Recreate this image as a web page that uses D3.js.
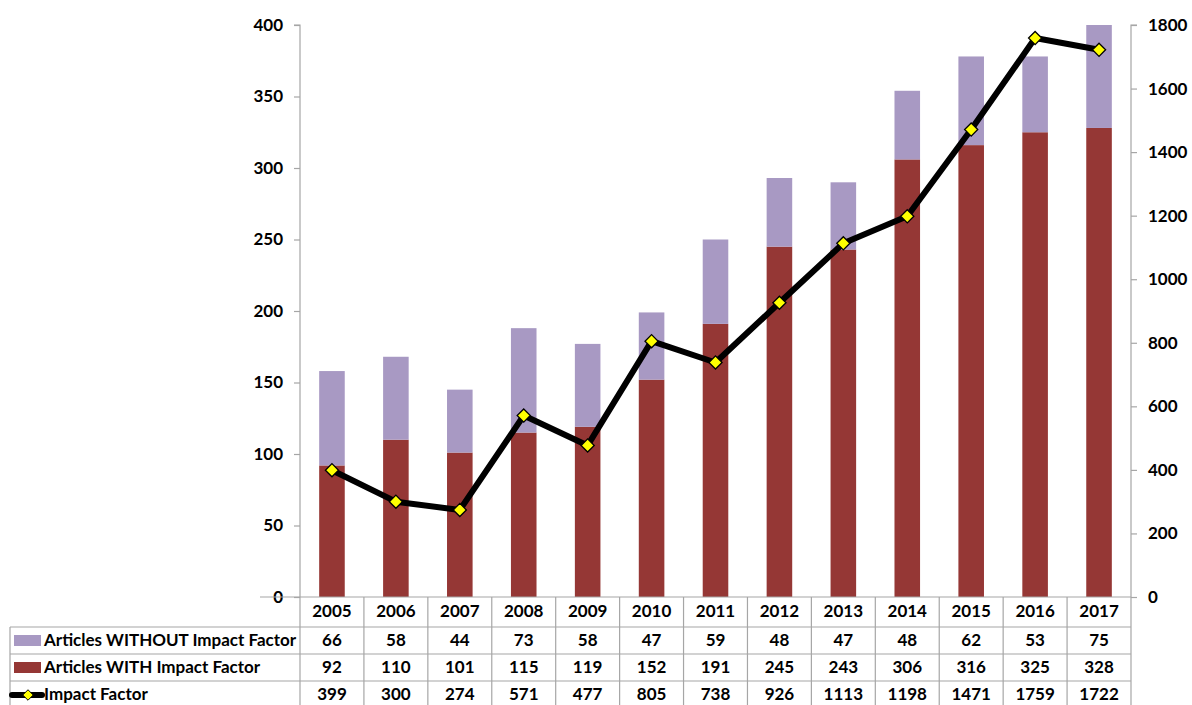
<!DOCTYPE html>
<html><head><meta charset="utf-8">
<script src="https://cdn.jsdelivr.net/npm/d3@7"></script>
<style>body{margin:0;background:#fff}svg{display:block}text{font-family:Lato,"Open Sans",sans-serif;font-weight:bold;fill:#000}</style>
</head><body><svg id="c" width="1192" height="705"></svg>
<script>
const years = ["2005","2006","2007","2008","2009","2010","2011","2012","2013","2014","2015","2016","2017"];
const without = [66,58,44,73,58,47,59,48,47,48,62,53,75];
const withIF = [92,110,101,115,119,152,191,245,243,306,316,325,328];
const impact = [399,300,274,571,477,805,738,926,1113,1198,1471,1759,1722];
const leftTicks = [0,50,100,150,200,250,300,350,400];
const rightTicks = [0,200,400,600,800,1000,1200,1400,1600,1800];
const seriesNames = ["Articles WITHOUT Impact Factor","Articles WITH Impact Factor","Impact Factor"];

const svg = d3.select("#c");
const L = 300, R = 1131, T = 25, B = 597;
const FS = 17;
const x = d3.scaleBand().domain(years).range([L, R]).paddingInner(0.6).paddingOuter(0.3);
const xc = d3.scaleBand().domain(years).range([L, R]);
const yL = d3.scaleLinear().domain([0,400]).range([B, T]);
const yR = d3.scaleLinear().domain([0,1800]).range([B, T]);
const purple = "#a899c3", red = "#953735", grid = "#a6a6a6";

svg.append("defs").append("clipPath").attr("id","pc").append("rect").attr("x",L).attr("y",T).attr("width",R-L).attr("height",B-T);
const g = svg.append("g").attr("clip-path","url(#pc)");
g.selectAll(".w").data(years).join("rect").attr("x",d=>x(d)).attr("width",x.bandwidth())
  .attr("y",(d,i)=>yL(withIF[i])).attr("height",(d,i)=>B-yL(withIF[i])).attr("fill",red);
g.selectAll(".wo").data(years).join("rect").attr("x",d=>x(d)).attr("width",x.bandwidth())
  .attr("y",(d,i)=>yL(withIF[i]+without[i])).attr("height",(d,i)=>yL(withIF[i])-yL(withIF[i]+without[i])).attr("fill",purple);

// axes
const ga = svg.append("g").attr("transform",`translate(${L},0)`).call(d3.axisLeft(yL).tickValues(leftTicks).tickFormat(d3.format("d")).tickSize(6).tickPadding(11));
const gb = svg.append("g").attr("transform",`translate(${R},0)`).call(d3.axisRight(yR).tickValues(rightTicks).tickFormat(d3.format("d")).tickSize(6).tickPadding(11));
[ga,gb].forEach(a=>{a.selectAll("path,line").attr("stroke",grid).attr("stroke-width",1.2);a.selectAll("text").attr("font-size",FS).attr("font-family","Lato").attr("font-weight","bold");});
ga.select(".domain").attr("d",`M-6,${T}H0V${B}`);
gb.select(".domain").attr("d",`M6,${T}H0V${B}`);

// line
const line = d3.line().x((d,i)=>xc(years[i])+xc.bandwidth()/2).y(d=>yR(d));
svg.append("path").datum(impact).attr("d",line).attr("fill","none").attr("stroke","#000").attr("stroke-width",6).attr("stroke-linejoin","round");
svg.selectAll(".m").data(impact).join("path")
  .attr("d",d3.symbol().type(d3.symbolDiamond2).size(110))
  .attr("transform",(d,i)=>`translate(${xc(years[i])+xc.bandwidth()/2},${yR(d)})`)
  .attr("fill","#ffff00").attr("stroke","#000").attr("stroke-width",1.3);

// table
const rowsY = [597,627,654,681,708];
const tb = svg.append("g");
tb.append("line").attr("x1",L-40).attr("x2",R).attr("y1",B).attr("y2",B).attr("stroke",grid).attr("stroke-width",1.2);
[1,2,3].forEach(k=>tb.append("line").attr("x1",10).attr("x2",R).attr("y1",rowsY[k]).attr("y2",rowsY[k]).attr("stroke",grid).attr("stroke-width",1.2));
tb.append("line").attr("x1",10).attr("x2",10).attr("y1",627).attr("y2",705).attr("stroke",grid).attr("stroke-width",1.2);
years.forEach(y=>tb.append("line").attr("x1",xc(y)).attr("x2",xc(y)).attr("y1",B).attr("y2",705).attr("stroke",grid).attr("stroke-width",1.2));
tb.append("line").attr("x1",R).attr("x2",R).attr("y1",B).attr("y2",705).attr("stroke",grid).attr("stroke-width",1.2);

const rowsData = [years, without, withIF, impact];
rowsData.forEach((arr,r)=>{
  tb.selectAll(".r"+r).data(arr).join("text").attr("x",(d,i)=>xc(years[i])+xc.bandwidth()/2)
    .attr("y",(rowsY[r]+rowsY[r+1])/2+1).attr("text-anchor","middle").attr("dominant-baseline","middle")
    .attr("font-size",FS).text(d=>d);
});
// legend cells
tb.append("rect").attr("x",14).attr("y",635).attr("width",27).attr("height",11).attr("fill",purple);
tb.append("rect").attr("x",14).attr("y",662).attr("width",27).attr("height",11).attr("fill",red);
tb.append("line").attr("x1",12).attr("x2",42).attr("y1",695).attr("y2",695).attr("stroke","#000").attr("stroke-width",6).attr("stroke-linecap","round");
tb.append("path").attr("d",d3.symbol().type(d3.symbolDiamond2).size(70)).attr("transform","translate(28,695)").attr("fill","#ffff00").attr("stroke","#000").attr("stroke-width",1);
[0,1,2].forEach(k=>tb.append("text").attr("x",44).attr("y",(rowsY[k+1]+rowsY[k+2])/2+1).attr("dominant-baseline","middle").attr("font-size",FS).text(seriesNames[k]));
</script></body></html>
